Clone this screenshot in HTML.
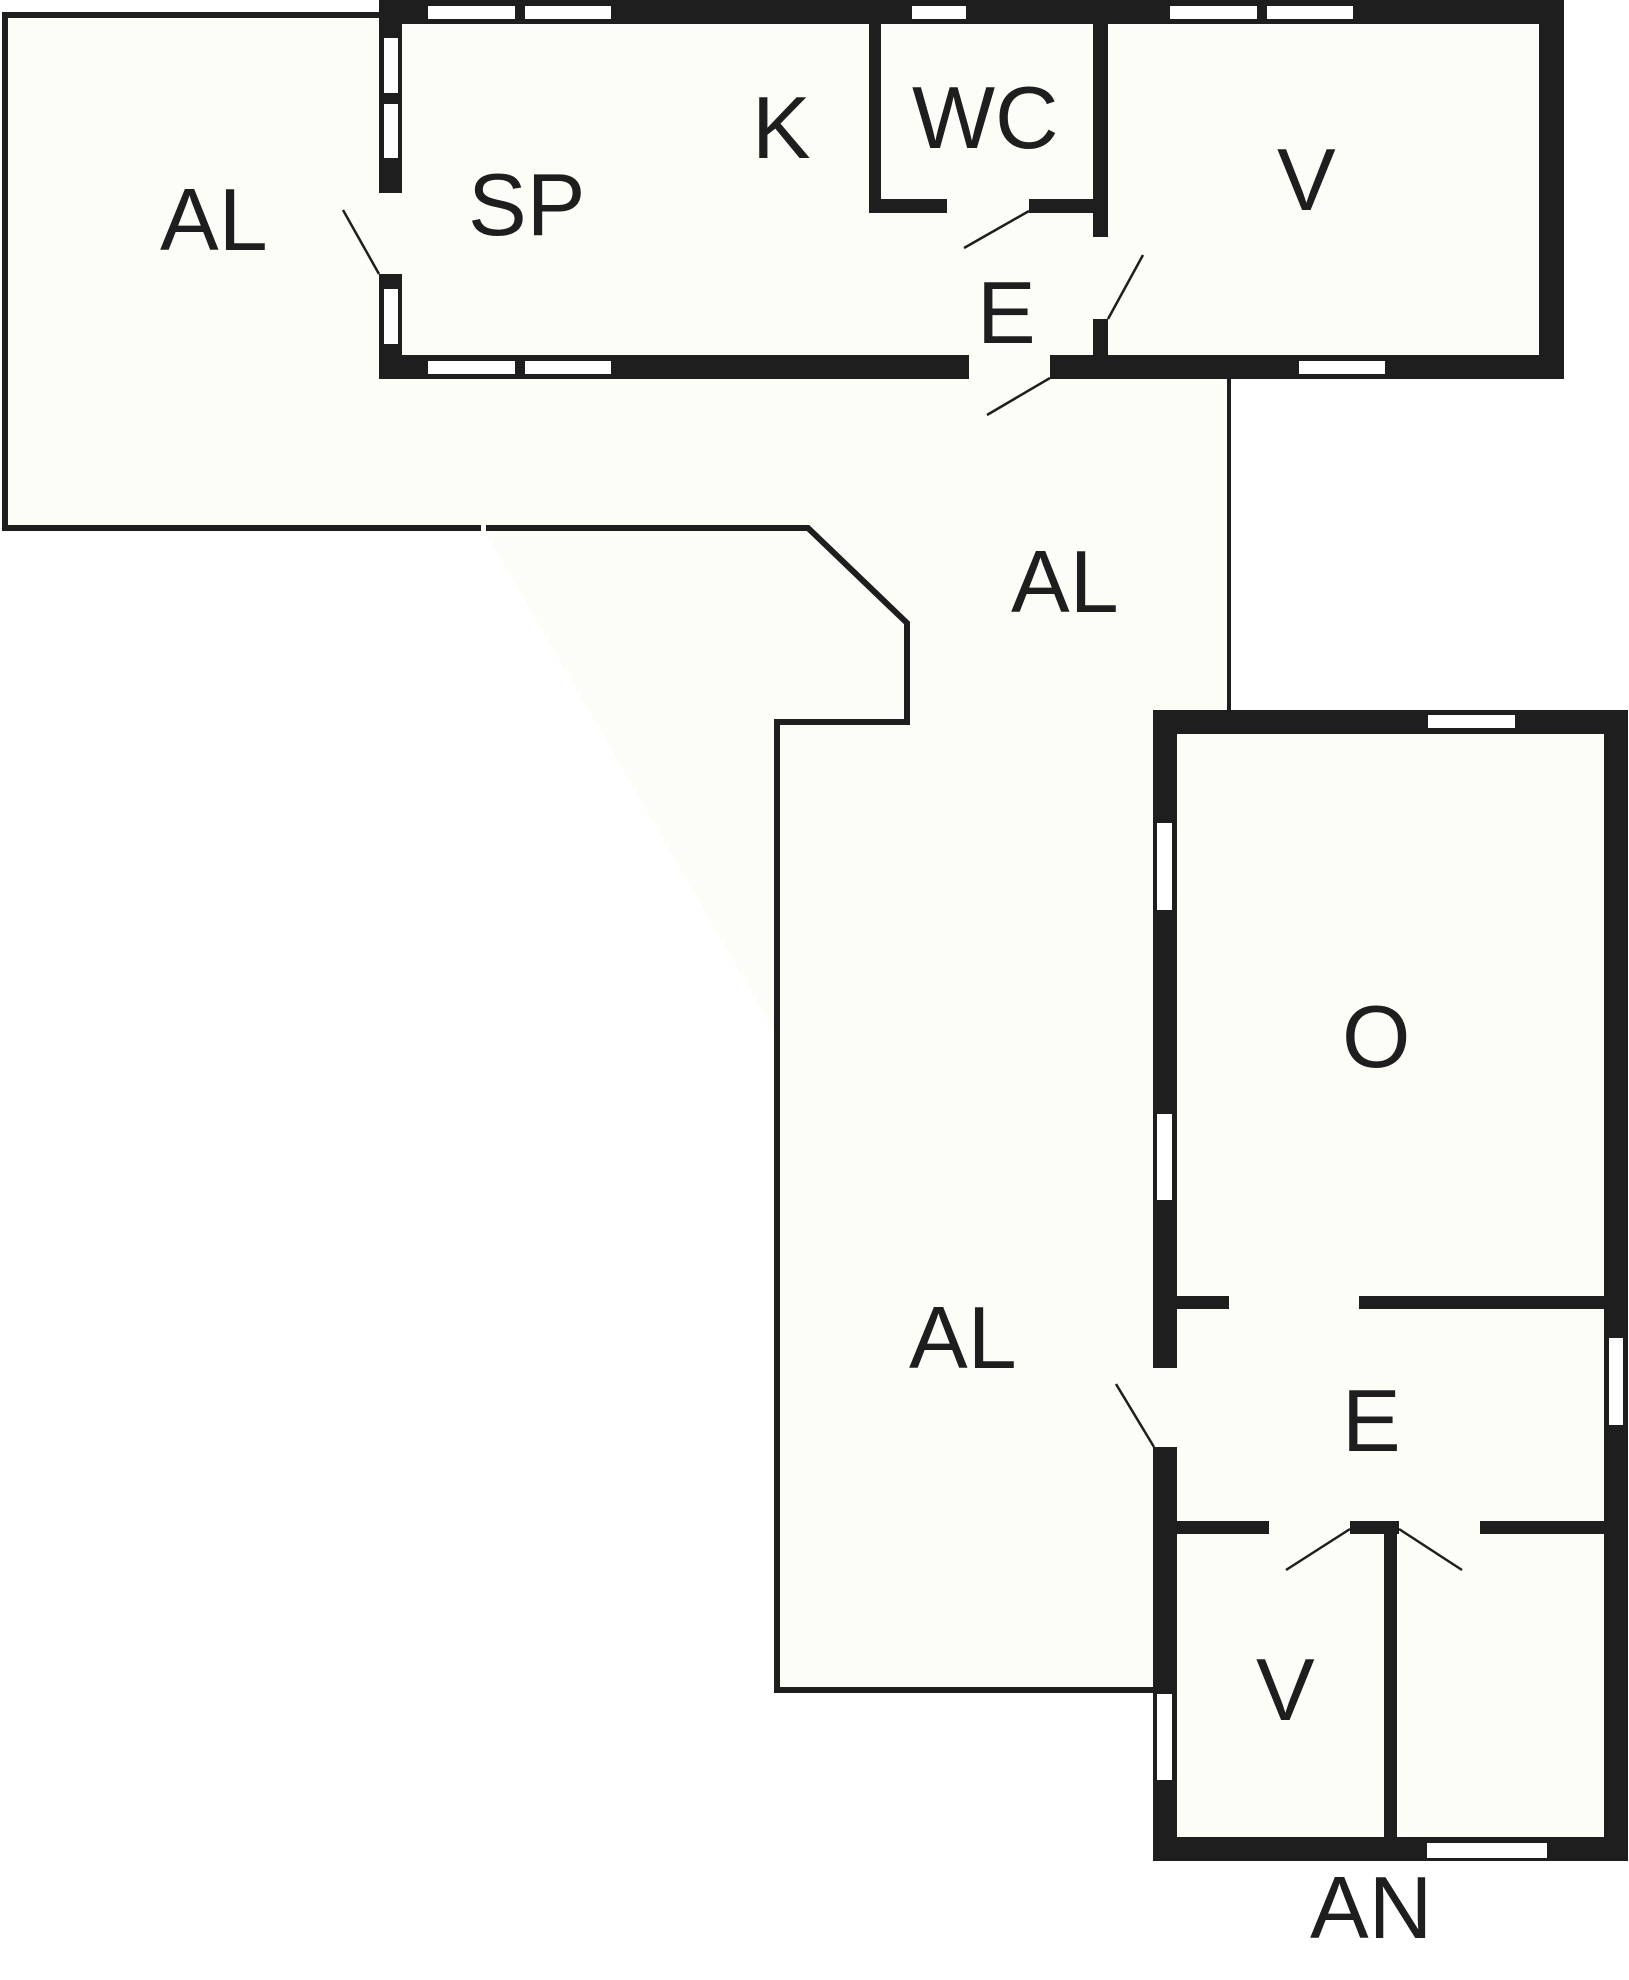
<!DOCTYPE html>
<html><head><meta charset="utf-8"><style>html,body{margin:0;padding:0;background:#fff}svg{display:block}</style></head>
<body>
<svg width="1629" height="1980" viewBox="0 0 1629 1980" xmlns="http://www.w3.org/2000/svg">
<rect width="1629" height="1980" fill="#fff"/>
<polygon points="5,15 1229,15 1229,712 1155,712 1155,1690 777,1690 777,1036 483,528 5,528" fill="#fdfdf7"/>
<!-- AL outline -->
<g stroke="#1f1e1f" stroke-width="6" fill="none" stroke-linejoin="miter">
<polyline points="381,15 5,15 5,528 481,528"/>
<polyline points="486,528 808,528 907,623 907,722 777,722 777,1690 1155,1690"/>
<line x1="1229" y1="376" x2="1229" y2="712" stroke-width="4"/>
</g>
<!-- top building -->
<rect x="379" y="0" width="1185" height="379" fill="#1f1e1f"/>
<rect x="402" y="24" width="1137" height="331" fill="#fdfdf7"/>
<!-- WC walls -->
<rect x="869" y="24" width="12" height="189" fill="#1f1e1f"/>
<rect x="869" y="199" width="78" height="14" fill="#1f1e1f"/>
<rect x="1029" y="199" width="70" height="14" fill="#1f1e1f"/>
<rect x="1093" y="24" width="15" height="213" fill="#1f1e1f"/>
<rect x="1093" y="319" width="15" height="50" fill="#1f1e1f"/>
<!-- windows top building -->
<g fill="#fff">
<rect x="428" y="6" width="87" height="13"/><rect x="525" y="6" width="86" height="13"/>
<rect x="912" y="6" width="54" height="13"/>
<rect x="1170" y="6" width="87" height="13"/><rect x="1267" y="6" width="86" height="13"/>
<rect x="428" y="361" width="87" height="13"/><rect x="525" y="361" width="86" height="13"/>
<rect x="1299" y="361" width="86" height="13"/>
<rect x="384" y="38" width="14" height="55"/><rect x="384" y="104" width="14" height="54"/>
<rect x="384" y="289" width="14" height="55"/>
</g>
<g fill="#fdfdf7">
<rect x="379" y="193" width="23" height="81"/>
<rect x="947" y="199" width="82" height="14"/>
<rect x="1093" y="237" width="15" height="82"/>
<rect x="969" y="355" width="81" height="24"/>
</g>
<!-- lower building -->
<rect x="1153" y="710" width="475" height="1151" fill="#1f1e1f"/>
<rect x="1177" y="734" width="427" height="1103" fill="#fdfdf7"/>
<rect x="1177" y="1296" width="52" height="13" fill="#1f1e1f"/>
<rect x="1359" y="1296" width="245" height="13" fill="#1f1e1f"/>
<rect x="1177" y="1521" width="92" height="13" fill="#1f1e1f"/>
<rect x="1350" y="1521" width="49" height="13" fill="#1f1e1f"/>
<rect x="1480" y="1521" width="124" height="13" fill="#1f1e1f"/>
<rect x="1384" y="1521" width="13" height="316" fill="#1f1e1f"/>
<g fill="#fff">
<rect x="1428" y="715" width="87" height="13"/>
<rect x="1427" y="1843" width="120" height="15"/>
<rect x="1157" y="823" width="15" height="87"/><rect x="1157" y="1114" width="15" height="86"/>
<rect x="1157" y="1694" width="15" height="86"/>
<rect x="1609" y="1338" width="14" height="87"/>
</g>
<rect x="1153" y="1368" width="24" height="79" fill="#fdfdf7"/>
<!-- door swings -->
<g stroke="#1f1e1f" stroke-width="2.5">
<line x1="343" y1="210" x2="379" y2="274"/>
<line x1="1029" y1="211" x2="964" y2="248"/>
<line x1="1143" y1="255" x2="1108" y2="319"/>
<line x1="1050" y1="378" x2="987" y2="415"/>
<line x1="1116" y1="1384" x2="1154" y2="1447"/>
<line x1="1350" y1="1529" x2="1286" y2="1570"/>
<line x1="1399" y1="1529" x2="1462" y2="1570"/>
</g>
<!-- labels -->
<g font-family="'Liberation Sans', Arial, sans-serif" font-size="88" fill="#1f1e1f">
<text x="160" y="250">AL</text>
<text x="468" y="235">SP</text>
<text x="752" y="158">K</text>
<text x="912" y="148">WC</text>
<text x="1277" y="210">V</text>
<text x="977" y="343">E</text>
<text x="1011" y="612">AL</text>
<text x="1342" y="1067">O</text>
<text x="909" y="1368">AL</text>
<text x="1342" y="1451">E</text>
<text x="1256" y="1720">V</text>
<text x="1310" y="1938">AN</text>
</g>
</svg>
</body></html>
